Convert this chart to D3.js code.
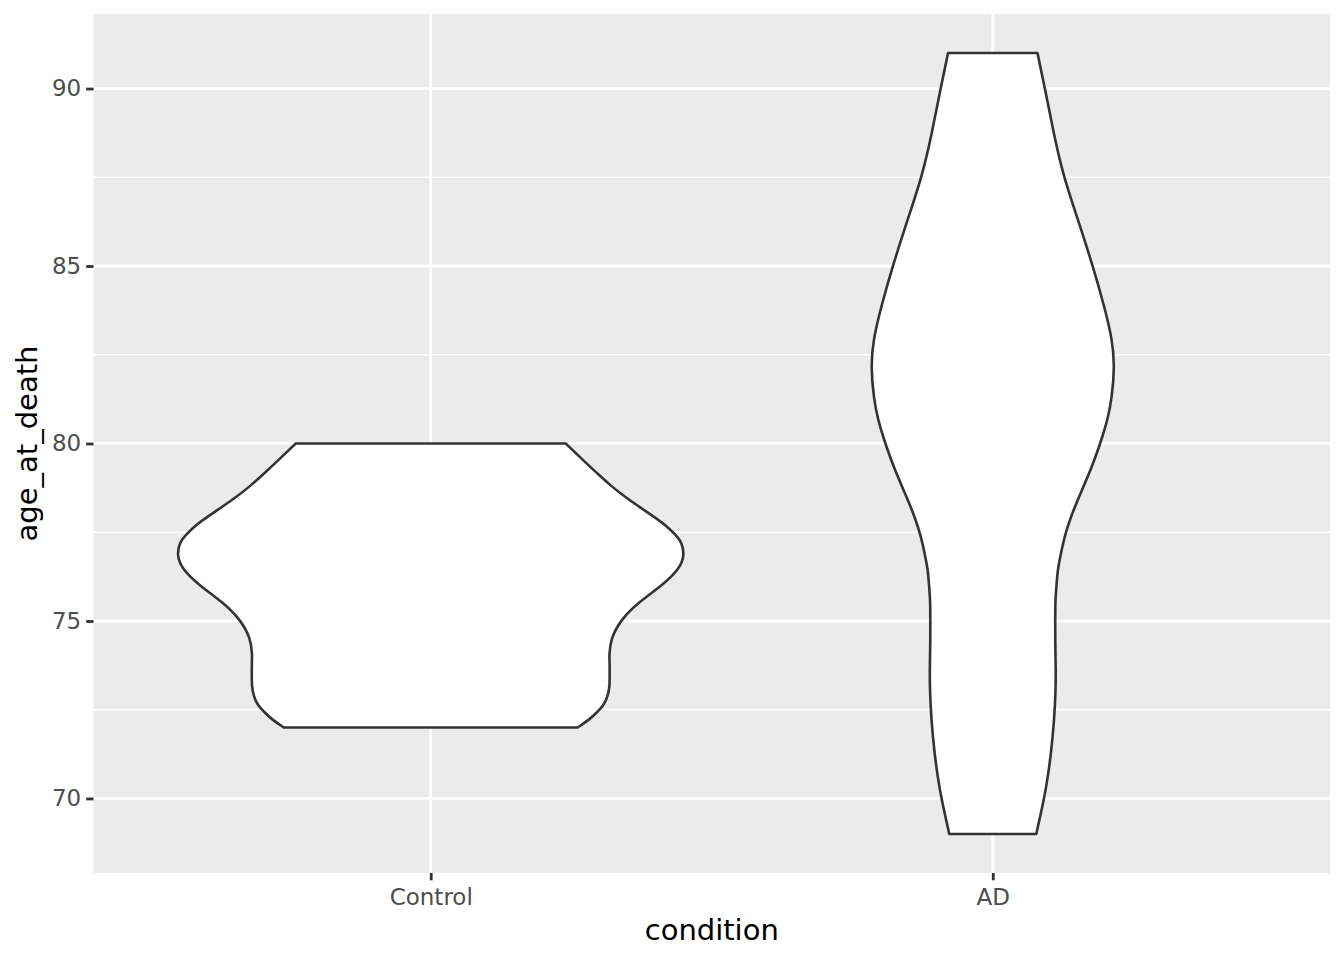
<!DOCTYPE html>
<html><head><meta charset="utf-8">
<script src="https://cdn.jsdelivr.net/npm/d3@7"></script>
<style>body{margin:0;background:#fff}svg{display:block}text{font-family:"DejaVu Sans",sans-serif}</style>
</head><body>
<svg id="c" width="1344" height="960"></svg>
<script>
const categories = ["Control", "AD"];
const yTicks = [70, 75, 80, 85, 90];
const yMinor = [72.5, 77.5, 82.5, 87.5];
// violin half-widths, relative to the widest violin (1 = widest)
const controlAge = [72.0, 72.25, 72.45, 72.62, 72.9, 73.19, 73.46, 73.85, 74.02, 74.5, 75.03, 75.53, 76.0, 76.47, 76.86, 77.22, 77.4, 77.7, 77.9, 78.25, 78.44, 78.81, 79.2, 79.38, 80.0];
const controlWidth = [147, 160, 167, 173, 177.5, 179, 179, 179, 178.5, 180, 190, 208, 231.5, 249, 254, 251, 246, 235, 225, 207, 197, 180, 165, 158, 135].map(v => v / 253);
const adAge = [69.0, 70.0, 70.6, 71.2, 72.2, 73.1, 73.7, 74.3, 75.06, 75.54, 75.99, 76.47, 76.95, 77.4, 77.88, 78.35, 78.8, 79.3, 79.76, 80.13, 80.69, 81.25, 82.18, 82.94, 83.87, 84.99, 86.31, 87.52, 88.76, 89.97, 91.0];
const adWidth = [43.5, 51.5, 55, 58, 61.5, 63, 63, 62.5, 62.5, 62.5, 63.7, 65, 68.5, 72, 77.5, 84, 91, 98.5, 104.5, 109, 115, 119, 122, 119.5, 111.5, 100.2, 85.2, 70.7, 60.7, 52.5, 44.7].map(v => v / 253);

const groups = [
  {name: "Control", pts: controlAge.map((a, i) => ({age: a, w: controlWidth[i]}))},
  {name: "AD", pts: adAge.map((a, i) => ({age: a, w: adWidth[i]}))}
];

const P = {left: 93.5, right: 1330, top: 14, bottom: 873};
const svg = d3.select("#c");
const x = d3.scalePoint().domain(categories).range([P.left, P.right]).padding(0.6);
const y = d3.scaleLinear().domain([67.9, 92.1]).range([P.bottom, P.top]);
const wScale = d3.scaleLinear().domain([0, 1]).range([0, 0.45 * x.step()]);

svg.append("rect").attr("x", P.left).attr("y", P.top)
  .attr("width", P.right - P.left).attr("height", P.bottom - P.top).attr("fill", "#EBEBEB");

const g = svg.append("g");
g.selectAll(".minor").data(yMinor).join("line")
  .attr("x1", P.left).attr("x2", P.right).attr("y1", d => y(d)).attr("y2", d => y(d))
  .attr("stroke", "#fff").attr("stroke-width", 1.4);
g.selectAll(".major").data(yTicks).join("line")
  .attr("x1", P.left).attr("x2", P.right).attr("y1", d => y(d)).attr("y2", d => y(d))
  .attr("stroke", "#fff").attr("stroke-width", 2.8);
g.selectAll(".vmajor").data(categories).join("line")
  .attr("y1", P.top).attr("y2", P.bottom).attr("x1", d => x(d)).attr("x2", d => x(d))
  .attr("stroke", "#fff").attr("stroke-width", 2.8);

groups.forEach(gr => {
  const cx = x(gr.name);
  const area = d3.area()
    .y(d => y(d.age))
    .x0(d => cx - wScale(d.w))
    .x1(d => cx + wScale(d.w))
    .curve(d3.curveBasis);
  svg.append("path").datum(gr.pts).attr("d", area)
    .attr("fill", "#fff").attr("stroke", "#333333").attr("stroke-width", 2.6)
    .attr("stroke-linejoin", "round");
});

// axes
const yAxis = d3.axisLeft(y).tickValues(yTicks).tickSize(7.3).tickPadding(5);
const ya = svg.append("g").attr("transform", `translate(${P.left},0)`).call(yAxis);
const xAxis = d3.axisBottom(x).tickSize(7.3).tickPadding(8.5);
const xa = svg.append("g").attr("transform", `translate(0,${P.bottom})`).call(xAxis);
[ya, xa].forEach(a => {
  a.select(".domain").remove();
  a.selectAll(".tick line").attr("stroke", "#333333").attr("stroke-width", 2.8);
  a.selectAll(".tick text").attr("fill", "#4D4D4D").style("font-size", "23px")
    .style("font-family", "DejaVu Sans");
});

svg.append("text").attr("x", (P.left + P.right) / 2).attr("y", 940)
  .attr("text-anchor", "middle").style("font-size", "29px").attr("fill", "#000").text("condition");
svg.append("text").attr("transform", `translate(37,${(P.top + P.bottom) / 2}) rotate(-90)`)
  .attr("text-anchor", "middle").style("font-size", "29px").attr("fill", "#000").text("age_at_death");
</script>
</body></html>
